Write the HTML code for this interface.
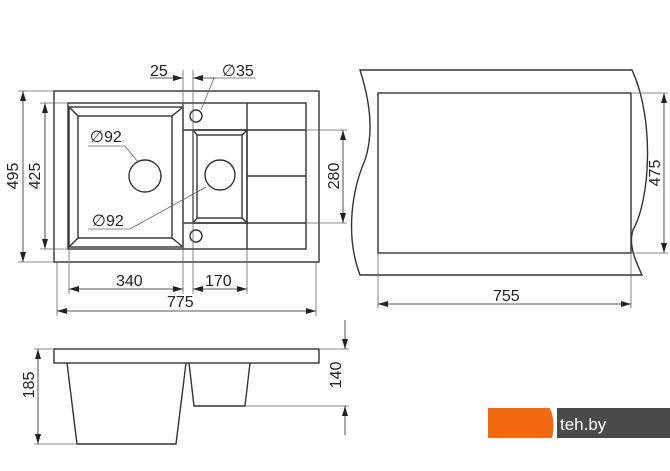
<!DOCTYPE html>
<html><head><style>
html,body{margin:0;padding:0;background:#fff;}
svg{display:block;}
text{font-family:"Liberation Sans","DejaVu Sans",sans-serif;font-size:16px;fill:#222;}
</style></head><body>
<svg width="670" height="471" viewBox="0 0 670 471" xmlns="http://www.w3.org/2000/svg">
<defs>
<marker id="a" viewBox="0 0 10 6" refX="10" refY="3" markerWidth="10" markerHeight="6" orient="auto-start-reverse" markerUnits="userSpaceOnUse"><path d="M0,0 L10,3 L0,6 z" fill="#222"/></marker>
</defs>
<g fill="none" stroke="#333" stroke-width="1.4">
<rect x="54" y="91" width="265" height="171"/>
<rect x="68" y="103" width="238" height="146"/>
<rect x="69" y="107" width="114" height="140"/>
<rect x="78" y="116" width="94" height="122"/>
<line x1="69" y1="107" x2="78" y2="116"/><line x1="183" y1="107" x2="172" y2="116"/>
<line x1="69" y1="247" x2="78" y2="238"/><line x1="183" y1="247" x2="172" y2="238"/>
<line x1="183" y1="103" x2="183" y2="249"/>
<line x1="247" y1="103" x2="247" y2="249"/>
<line x1="183" y1="130" x2="306" y2="130"/>
<line x1="183" y1="223" x2="306" y2="223"/>
<line x1="247" y1="176" x2="306" y2="176"/>
<rect x="193" y="130" width="54" height="93"/>
<rect x="197" y="135" width="45" height="83"/>
<line x1="193" y1="130" x2="197" y2="135"/><line x1="247" y1="130" x2="242" y2="135"/>
<line x1="193" y1="223" x2="197" y2="218"/><line x1="247" y1="223" x2="242" y2="218"/>
<circle cx="196" cy="116" r="6"/>
<circle cx="196" cy="236" r="6"/>
<circle cx="145" cy="176" r="16"/>
<circle cx="220" cy="175" r="15"/>
<path d="M360,70 L632,70 C655,120 650,200 633,230 C628,245 636,262 642,275 L360,275 C345,235 352,190 365,160 C375,130 368,95 360,70 Z"/>
<rect x="378" y="93" width="253" height="160"/>
<rect x="54" y="349" width="265" height="14"/>
<path d="M67,363 L77,444 L176,444 L186,363"/>
<path d="M189,363 L194,406 L245,406 L250,363"/>
</g>
<g fill="none" stroke="#666" stroke-width="0.8">
<line x1="18" y1="91" x2="54" y2="91"/><line x1="18" y1="262" x2="54" y2="262"/>
<line x1="40" y1="103" x2="68" y2="103"/><line x1="40" y1="249" x2="68" y2="249"/>
<line x1="69" y1="249" x2="69" y2="294"/><line x1="183" y1="70" x2="183" y2="294"/>
<line x1="193" y1="70" x2="193" y2="294"/><line x1="247" y1="249" x2="247" y2="294"/>
<line x1="57" y1="262" x2="57" y2="316"/><line x1="316" y1="262" x2="316" y2="316"/>
<line x1="306" y1="130" x2="347" y2="130"/><line x1="306" y1="223" x2="347" y2="223"/>
<line x1="631" y1="93" x2="668" y2="93"/><line x1="631" y1="253" x2="668" y2="253"/>
<line x1="378" y1="253" x2="378" y2="308"/><line x1="631" y1="253" x2="631" y2="308"/>
<line x1="34" y1="349" x2="54" y2="349"/><line x1="34" y1="444" x2="77" y2="444"/>
<line x1="319" y1="349" x2="349" y2="349"/><line x1="245" y1="406" x2="349" y2="406"/>
<polyline points="256,78 214,78 201,110"/>
<polyline points="88,146 125,146 138,162"/>
<polyline points="88,229 130,229 206,187"/>
</g>
<g stroke="#222" stroke-width="0.8" fill="none">
<line x1="23" y1="91" x2="23" y2="262" marker-start="url(#a)" marker-end="url(#a)"/>
<line x1="45" y1="103" x2="45" y2="249" marker-start="url(#a)" marker-end="url(#a)"/>
<line x1="69" y1="289" x2="183" y2="289" marker-start="url(#a)" marker-end="url(#a)"/>
<line x1="193" y1="289" x2="247" y2="289" marker-start="url(#a)" marker-end="url(#a)"/>
<line x1="57" y1="311" x2="316" y2="311" marker-start="url(#a)" marker-end="url(#a)"/>
<line x1="150" y1="78" x2="183" y2="78" marker-end="url(#a)"/>
<line x1="215" y1="78" x2="193" y2="78" marker-end="url(#a)"/>
<line x1="343" y1="130" x2="343" y2="223" marker-start="url(#a)" marker-end="url(#a)"/>
<line x1="664" y1="93" x2="664" y2="253" marker-start="url(#a)" marker-end="url(#a)"/>
<line x1="378" y1="304" x2="631" y2="304" marker-start="url(#a)" marker-end="url(#a)"/>
<line x1="38" y1="349" x2="38" y2="444" marker-start="url(#a)" marker-end="url(#a)"/>
<line x1="345" y1="320" x2="345" y2="349" marker-end="url(#a)"/>
<line x1="345" y1="435" x2="345" y2="406" marker-end="url(#a)"/>
</g>
<text x="150" y="76">25</text>
<text x="222" y="76">∅35</text>
<text x="90" y="142">∅92</text>
<text x="92" y="226">∅92</text>
<text x="116" y="286">340</text>
<text x="205" y="286">170</text>
<text x="167" y="307">775</text>
<text x="493" y="301">755</text>
<text transform="translate(18,176) rotate(-90)" text-anchor="middle">495</text>
<text transform="translate(40,176) rotate(-90)" text-anchor="middle">425</text>
<text transform="translate(339,176) rotate(-90)" text-anchor="middle">280</text>
<text transform="translate(660,173) rotate(-90)" text-anchor="middle">475</text>
<text transform="translate(34,385) rotate(-90)" text-anchor="middle">185</text>
<text transform="translate(341,375) rotate(-90)" text-anchor="middle">140</text>
<rect x="488" y="408" width="67" height="30" fill="#f26a10"/>
<rect x="555" y="408" width="115" height="30" fill="#4a4a4a"/>
<path d="M550,408 L557,408 L557,438 L552,438 Q556,423 550,408 Z" fill="#fff"/>
<text x="560" y="430" style="font-size:17px;fill:#fff;">teh.by</text>
</svg>
</body></html>
